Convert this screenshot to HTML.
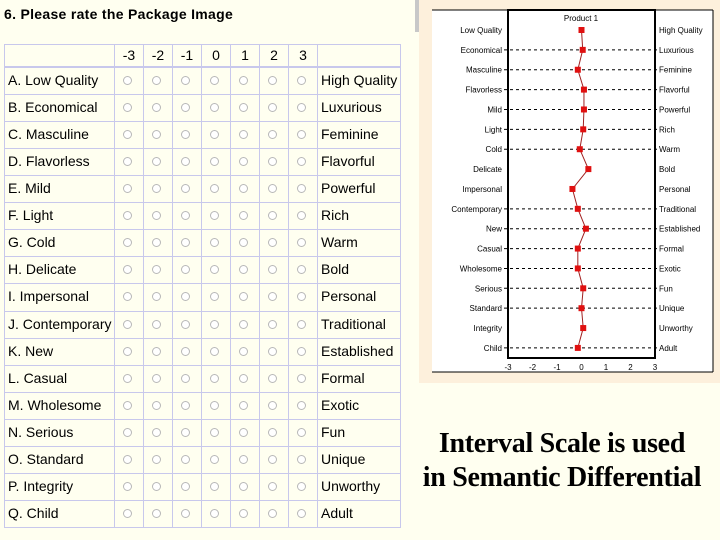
<!DOCTYPE html>
<html><head><meta charset="utf-8"><style>
body{margin:0;width:720px;height:540px;overflow:hidden;background:#fffff0;position:relative;font-family:"Liberation Sans",sans-serif}
.abs{position:absolute}
.cell{position:absolute;box-sizing:border-box;border:1px solid #c8c8ec;font-size:14px;color:#000;line-height:25px;padding-left:3px;background:#fffff0;white-space:nowrap;overflow:hidden}
.rad{position:absolute;width:9px;height:9px;border-radius:50%;border:1px solid #b8b8b8;background:#fff;box-sizing:border-box}
</style></head><body>
<div class="abs" style="left:4px;top:6px;font-size:14px;font-weight:bold;letter-spacing:0.3px">6. Please rate the Package Image</div>
<div class="abs" style="left:415px;top:0;width:5px;height:32px;background:#c8c8c8"></div>
<div id="tbl"></div>
<div class="abs" style="left:419px;top:0;width:301px;height:383px;background:#fdf0dc"></div>
<svg class="abs" style="left:0;top:0" width="720" height="540" id="chart"></svg>
<div class="abs" style="left:400px;top:427px;width:324px;text-align:center;font-family:'Liberation Serif',serif;font-weight:bold;font-size:28px;line-height:34px;color:#000;white-space:nowrap;letter-spacing:-0.3px">Interval Scale is used<br>in Semantic Differential</div>
<script>
const leftLabels=["Low Quality","Economical","Masculine","Flavorless","Mild","Light","Cold","Delicate","Impersonal","Contemporary","New","Casual","Wholesome","Serious","Standard","Integrity","Child"];
const rightLabels=["High Quality","Luxurious","Feminine","Flavorful","Powerful","Rich","Warm","Bold","Personal","Traditional","Established","Formal","Exotic","Fun","Unique","Unworthy","Adult"];
const values=[0.0,0.05,-0.15,0.1,0.1,0.07,-0.07,0.28,-0.37,-0.15,0.18,-0.15,-0.15,0.07,0.0,0.07,-0.15];
const dashed=[false,true,true,true,true,true,true,false,false,true,true,true,true,true,true,false,true];
const scaleTicks=[-3,-2,-1,0,1,2,3];
const letters="ABCDEFGHIJKLMNOPQ";
const tbl=document.getElementById('tbl');
const colX=[4,114,143,172,201,230,259,288,317,401];
function cell(x,y,w,h,t,name){const d=document.createElement('div');d.className='cell';d.style.left=x+'px';d.style.top=y+'px';d.style.width=w+'px';d.style.height=h+'px';d.textContent=t;


tbl.appendChild(d);return d;}
const rowH=27.06,top0=44,hdrH=23;
cell(4,top0,111,hdrH,'','header-blank');
scaleTicks.forEach((t,i)=>{const c=cell(colX[i+1],top0,30,hdrH,String(t),'scale-header');c.style.textAlign='center';c.style.paddingLeft='0';c.style.lineHeight='21px';});
cell(317,top0,84,hdrH,'','header-blank-right');
leftLabels.forEach((l,r)=>{const y=top0+hdrH+r*rowH;
cell(4,y,111,rowH+1,letters[r]+'. '+l,'row-left-label');
for(let i=0;i<7;i++){cell(colX[i+1],y,30,rowH+1,'','radio-cell');
const rd=document.createElement('div');rd.className='rad';rd.style.left=(colX[i+1]+9)+'px';rd.style.top=(y+9)+'px';


tbl.appendChild(rd);}
cell(317,y,84,rowH+1,rightLabels[r],'row-right-label');});
const svg=document.getElementById('chart');const NS='http://www.w3.org/2000/svg';
function el(t,a,name){const e=document.createElementNS(NS,t);for(const k in a)e.setAttribute(k,a[k]);


svg.appendChild(e);return e;}
const pL=508,pR=655,pT=10,pB=358;
const xS=v=>pL+(v+3)/6*(pR-pL);
const yS=i=>30+i*19.87;
el('rect',{x:432,y:10,width:281,height:362,fill:'#fff'},'plot-background');
el('line',{x1:432,y1:372,x2:713,y2:372,stroke:'#000','stroke-width':1},'panel-bottom');
el('line',{x1:713,y1:10,x2:713,y2:372,stroke:'#000','stroke-width':1},'panel-right');
el('line',{x1:432,y1:10,x2:713,y2:10,stroke:'#000','stroke-width':1},'panel-top');
leftLabels.forEach((l,i)=>{const y=yS(i);
if(dashed[i]){el('line',{x1:pL-4,y1:y,x2:pR+4,y2:y,stroke:'#000','stroke-width':1,'stroke-dasharray':'3,3'},'grid-line');}
const a=el('text',{x:pL-6,y:y+3,'font-size':8,'text-anchor':'end','font-family':'Liberation Sans'},'left-axis-label');a.textContent=l;
const b=el('text',{x:pR+4,y:y+3,'font-size':8,'font-family':'Liberation Sans'},'right-axis-label');b.textContent=rightLabels[i];});
el('rect',{x:pL,y:pT,width:pR-pL,height:pB-pT,fill:'none',stroke:'#000','stroke-width':2},'plot-frame');
const tt=el('text',{x:581,y:21,'font-size':8,'text-anchor':'middle','font-family':'Liberation Sans'},'chart-title');tt.textContent='Product 1';
scaleTicks.forEach(t=>{const e=el('text',{x:xS(t),y:370,'font-size':8,'text-anchor':'middle','font-family':'Liberation Sans'},'x-tick-label');e.textContent=t;});
el('polyline',{points:values.map((v,i)=>xS(v)+','+yS(i)).join(' '),fill:'none',stroke:'#a02020','stroke-width':1},'profile-line');
values.forEach((v,i)=>{el('rect',{x:xS(v)-3,y:yS(i)-3,width:6,height:6,fill:'#e01010'},'profile-point');});
</script>
</body></html>
